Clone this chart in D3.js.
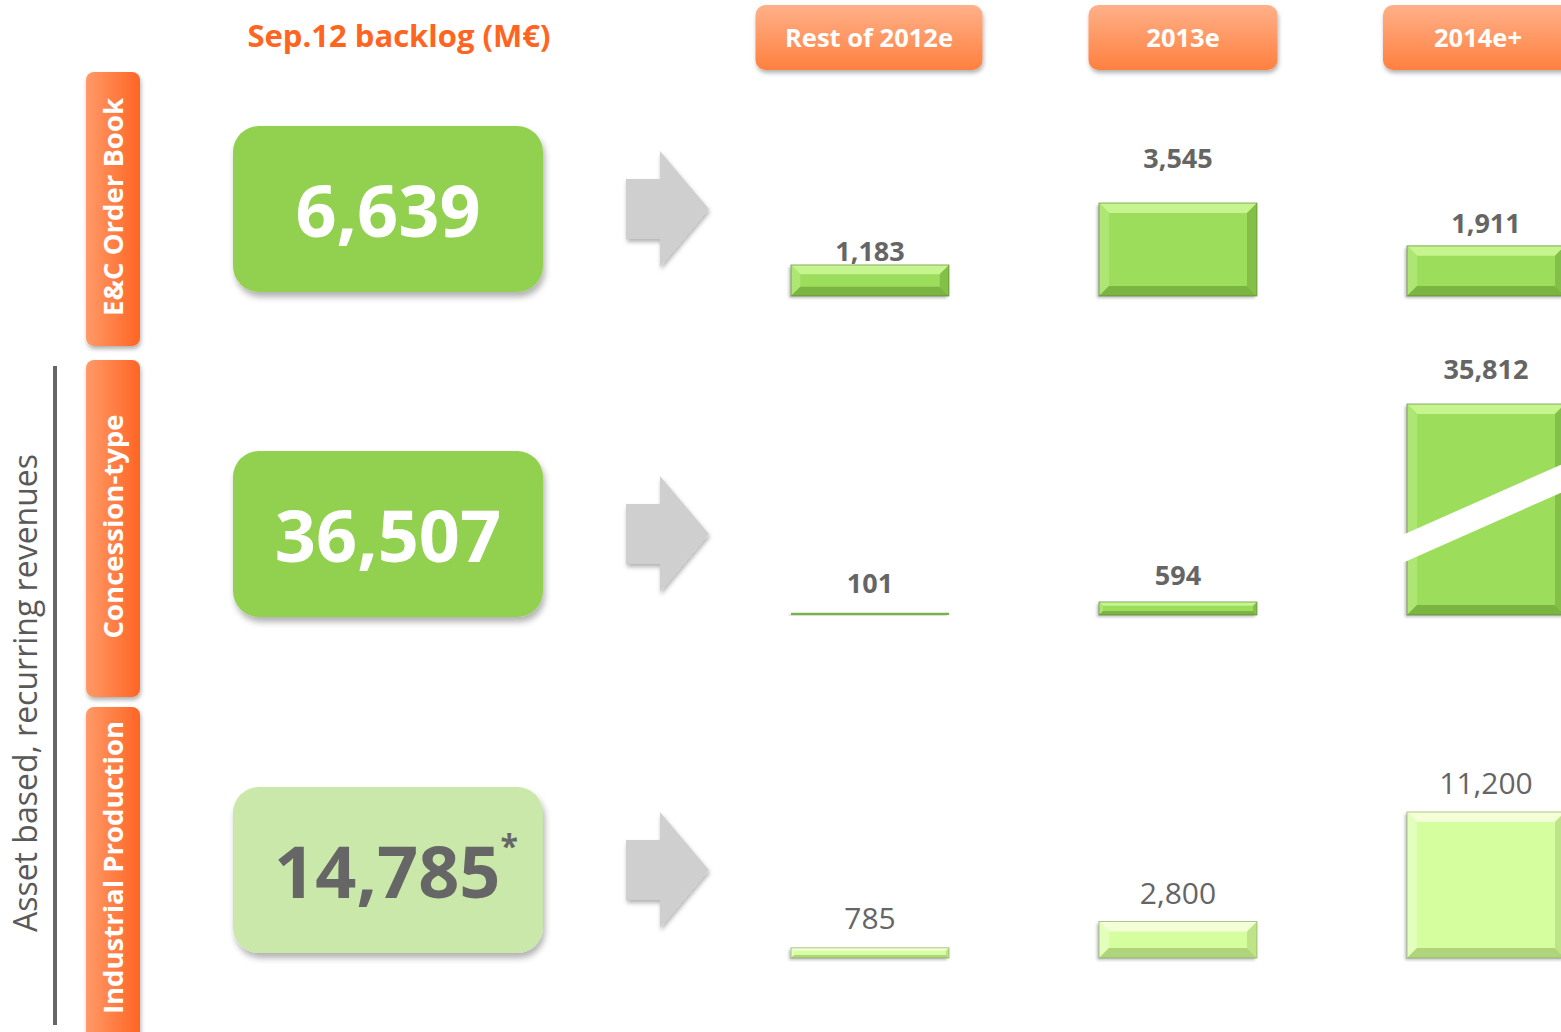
<!DOCTYPE html>
<html>
<head>
<meta charset="utf-8">
<script src="https://cdn.jsdelivr.net/npm/d3@7/dist/d3.min.js"></script>
<style>
  html, body { margin: 0; padding: 0; background: #fff; }
  svg { display: block; font-family: "Open Sans", "DejaVu Sans", sans-serif; }
</style>
</head>
<body>
<svg id="chart" width="1561" height="1032"></svg>
<script>
// data
const periods = ["Rest of 2012e", "2013e", "2014e+"];
const segments = ["E&C Order Book", "Concession-type", "Industrial Production"];
const backlog = [6639, 36507, 14785];
const ecOrderBook = [1183, 3545, 1911];
const concession = [101, 594, 35812];
const industrial = [785, 2800, 11200];
const groupLabel = "Asset based, recurring revenues";
const title = "Sep.12 backlog (M€)";

const rows = [ecOrderBook, concession, industrial];

// layout
const W = 1561, H = 1032;
const baselines = [296, 615, 958];
const rowCenters = [209, 534, 870];
const sideBoxes = [[72, 346], [360, 697], [707, 1040]];
const headerW = [227, 189, 190];
const headerShift = [-1, 5, -8];
// gap between bar top and label baseline (labels were hand placed on the slide)
const labelGap = [[4, 35, 13], [20, 17, 25], [19, 18, 18]];

// one value scale per row, as on the slide
const yScales = [
  d3.scaleLinear().domain([0, 3545]).range([0, 93]),
  d3.scaleLinear().domain([0, 9600]).range([0, 211]).clamp(true),
  d3.scaleLinear().domain([0, 11200]).range([0, 146])
];

const x = d3.scaleBand()
  .domain(periods)
  .range([716, 1640])
  .paddingInner(0.487)
  .paddingOuter(0.2435);

const fmt = d3.format(",");

const svg = d3.select("#chart");
const defs = svg.append("defs");

function shadow(id, dx, dy, sd, op) {
  defs.append("filter").attr("id", id)
    .attr("x", "-20%").attr("y", "-20%").attr("width", "150%").attr("height", "150%")
    .append("feDropShadow")
    .attr("dx", dx).attr("dy", dy).attr("stdDeviation", sd)
    .attr("flood-color", "#000").attr("flood-opacity", op);
}
shadow("boxShadow", 2, 5, 3, 0.3);
shadow("smallShadow", 1, 3, 2, 0.3);
shadow("barShadow", -2, 2, 1.5, 0.25);

const gH = defs.append("linearGradient").attr("id", "headGrad")
  .attr("x1", 0).attr("y1", 0).attr("x2", 0).attr("y2", 1);
gH.append("stop").attr("offset", "0%").attr("stop-color", "#ffb089");
gH.append("stop").attr("offset", "100%").attr("stop-color", "#ff803f");

const gS = defs.append("linearGradient").attr("id", "sideGrad")
  .attr("x1", 0).attr("y1", 0).attr("x2", 1).attr("y2", 0);
gS.append("stop").attr("offset", "0%").attr("stop-color", "#ff9a68");
gS.append("stop").attr("offset", "100%").attr("stop-color", "#ff6524");

// title
svg.append("text")
  .attr("x", 399).attr("y", 47)
  .attr("text-anchor", "middle")
  .attr("font-size", 31).attr("font-weight", "bold")
  .attr("fill", "#ff6420")
  .text(title);

// period headers
const head = svg.append("g").selectAll("g").data(periods).enter().append("g")
  .attr("transform", (d, i) => `translate(${x(d) + x.bandwidth() / 2 + headerShift[i]},0)`);
head.append("rect")
  .attr("x", (d, i) => -headerW[i] / 2).attr("y", 5)
  .attr("width", (d, i) => headerW[i]).attr("height", 65)
  .attr("rx", 10)
  .attr("fill", "url(#headGrad)")
  .attr("filter", "url(#smallShadow)");
head.append("text")
  .attr("y", 47).attr("text-anchor", "middle")
  .attr("font-size", 25.5).attr("font-weight", "bold").attr("fill", "#fff")
  .text(d => d);

// group bracket on the left
svg.append("line")
  .attr("x1", 55).attr("x2", 55).attr("y1", 366).attr("y2", 1025)
  .attr("stroke", "#666").attr("stroke-width", 4);
svg.append("text")
  .attr("transform", "translate(37,693) rotate(-90)")
  .attr("text-anchor", "middle")
  .attr("font-size", 32).attr("fill", "#595959")
  .text(groupLabel);

// segment labels
const side = svg.append("g").selectAll("g").data(segments).enter().append("g");
side.append("rect")
  .attr("x", 86).attr("width", 54)
  .attr("y", (d, i) => sideBoxes[i][0])
  .attr("height", (d, i) => sideBoxes[i][1] - sideBoxes[i][0])
  .attr("rx", 8)
  .attr("fill", "url(#sideGrad)")
  .attr("filter", "url(#smallShadow)");
side.append("text")
  .attr("transform", (d, i) => `translate(123,${(sideBoxes[i][0] + Math.min(sideBoxes[i][1], H)) / 2 - 2}) rotate(-90)`)
  .attr("text-anchor", "middle")
  .attr("font-size", 27.5).attr("font-weight", "bold").attr("fill", "#fff")
  .text(d => d);

// backlog boxes
const box = svg.append("g").selectAll("g").data(backlog).enter().append("g");
box.append("rect")
  .attr("x", 233).attr("width", 310)
  .attr("y", (d, i) => rowCenters[i] - 83)
  .attr("height", 166)
  .attr("rx", 26)
  .attr("fill", (d, i) => i === 2 ? "#c9e8a9" : "#92d050")
  .attr("filter", "url(#boxShadow)");
const boxText = box.append("text")
  .attr("x", (d, i) => i === 2 ? 396 : 388)
  .attr("y", (d, i) => rowCenters[i] + 28)
  .attr("text-anchor", "middle")
  .attr("font-size", 72).attr("font-weight", "bold")
  .attr("fill", (d, i) => i === 2 ? "#666" : "#fff");
boxText.append("tspan").text(d => fmt(d));
boxText.filter((d, i) => i === 2).append("tspan")
  .attr("font-size", 32).attr("dy", -40).text("*");

// arrows
const arrow = d3.line();
svg.append("g").selectAll("path").data(rowCenters).enter().append("path")
  .attr("d", cy => arrow([[626, cy - 30], [660, cy - 30], [660, cy - 58], [709, cy],
                          [660, cy + 58], [660, cy + 30], [626, cy + 30]]) + "Z")
  .attr("fill", "#cfcfcf")
  .attr("filter", "url(#smallShadow)");

// bevelled bars
const palettes = [
  {base: "#9ddd5b", top: "#c6f48e", left: "#aee673", right: "#84c048", bottom: "#7cb441", edge: "#4f7d27"},
  {base: "#9ddd5b", top: "#c6f48e", left: "#aee673", right: "#84c048", bottom: "#7cb441", edge: "#4f7d27"},
  {base: "#d5ff9f", top: "#f4ffd8", left: "#e2ffbb", right: "#bde486", bottom: "#b0d47b", edge: "#7fa357"}
];

function bevelBar(g, x0, y0, w, h, pal) {
  const b = Math.min(10, h * 0.3);
  const x1 = x0 + w, y1 = y0 + h;
  const p = pts => pts.map(q => q.join(",")).join(" ");
  g.append("rect").attr("x", x0).attr("y", y0).attr("width", w).attr("height", h)
    .attr("fill", h < 4 ? "#74b545" : pal.base).attr("filter", "url(#barShadow)");
  if (h < 4) return;
  g.append("polygon").attr("points", p([[x0, y0], [x1, y0], [x1 - b, y0 + b], [x0 + b, y0 + b]])).attr("fill", pal.top);
  g.append("polygon").attr("points", p([[x0, y0], [x0 + b, y0 + b], [x0 + b, y1 - b], [x0, y1]])).attr("fill", pal.left);
  g.append("polygon").attr("points", p([[x1, y0], [x1, y1], [x1 - b, y1 - b], [x1 - b, y0 + b]])).attr("fill", pal.right);
  g.append("polygon").attr("points", p([[x0, y1], [x0 + b, y1 - b], [x1 - b, y1 - b], [x1, y1]])).attr("fill", pal.bottom);
  g.append("rect").attr("x", x0).attr("y", y0).attr("width", w).attr("height", h)
    .attr("fill", "none").attr("stroke", pal.edge).attr("stroke-width", 1).attr("stroke-opacity", 0.6);
}

rows.forEach((vals, r) => {
  const yS = yScales[r];
  const g = svg.append("g");
  vals.forEach((v, c) => {
    const h = yS(v);
    const x0 = x(periods[c]);
    const top = baselines[r] - h;
    const bg = g.append("g");
    bevelBar(bg, x0, top, x.bandwidth(), h, palettes[r]);
    // axis break for values beyond the row's scale
    if (v > yS.domain()[1]) {
      const mid = top + h * 0.6;
      bg.append("polygon")
        .attr("points", [[x0 - 8, mid + 6], [x0 + 170, mid - 73], [x0 + 170, mid - 45], [x0 - 8, mid + 34]]
          .map(q => q.join(",")).join(" "))
        .attr("fill", "#fff");
    }
    g.append("text")
      .attr("x", x0 + x.bandwidth() / 2)
      .attr("y", top - labelGap[r][c])
      .attr("text-anchor", "middle")
      .attr("font-size", r === 2 ? 30 : 27)
      .attr("font-weight", r === 2 ? "normal" : "bold")
      .attr("fill", "#656565")
      .text(fmt(v));
  });
});
</script>
</body>
</html>
